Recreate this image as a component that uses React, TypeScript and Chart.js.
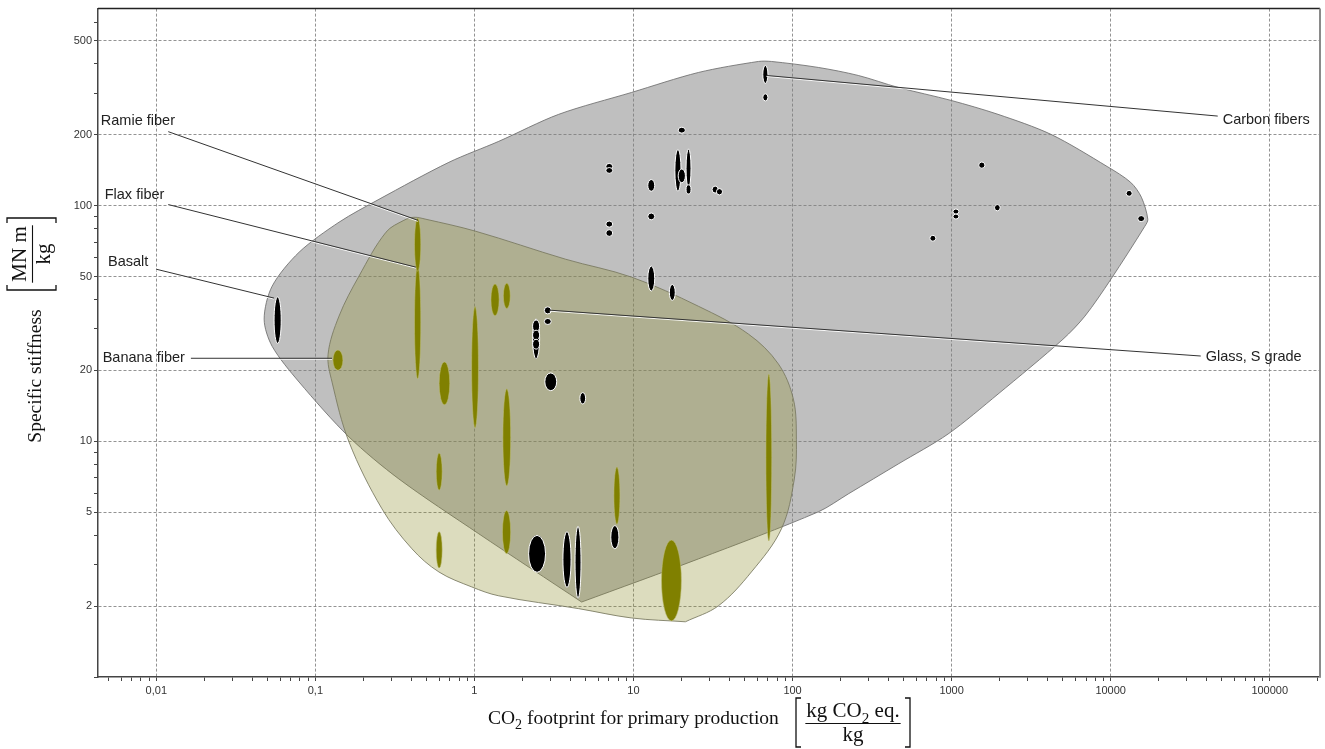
import React, { useEffect, useRef } from 'react';
import { Chart, registerables } from 'chart.js';

Chart.register(...registerables);

// ---- Axis ranges and labelled ticks ----
const xRange: [number, number] = [0.0043, 207000];
const yRange: [number, number] = [1, 685];
const xTickValues = [0.01, 0.1, 1, 10, 100, 1000, 10000, 100000];
const xTickLabels = ['0,01', '0,1', '1', '10', '100', '1000', '10000', '100000'];
const yTickValues = [2, 5, 10, 20, 50, 100, 200, 500];
const yTickLabels = ['2', '5', '10', '20', '50', '100', '200', '500'];

// ---- Synthetic fibres: CO2 footprint range [kg CO2 eq./kg] and specific stiffness range [MN m/kg] ----
const syntheticCO2: [number, number][] = [
  [0.055, 0.061], // basalt
  [65, 70], [65, 70],
  [19.1, 21.2],
  [6.7, 7.4], [6.7, 7.4],
  [12.3, 13.6],
  [18.2, 19.9], [21.4, 23.0], [19.1, 21.2], [21.4, 23.0],
  [31.2, 34.1], [33.2, 36.3],
  [6.7, 7.4], [6.7, 7.4],
  [12.3, 13.6], [12.3, 13.6],
  [16.8, 18.3],
  [1480, 1620], [12500, 13650], [1860, 2020], [1020, 1110], [1020, 1110], [730, 796], [14800, 16350],
  [2.75, 3.04], // glass, S grade
  [2.75, 3.04],
  [2.32, 2.57], [2.32, 2.57], [2.32, 2.57], [2.32, 2.57],
  [2.77, 3.29],
  [4.6, 5.0],
  [2.19, 2.8], [3.6, 4.05], [4.29, 4.68], [7.2, 8.1],
];
const syntheticStiffness: [number, number][] = [
  [26, 41],
  [330, 393], [278, 298],
  [203, 215],
  [142, 151], [137, 145],
  [115, 129],
  [115, 173], [119, 174], [125, 143], [112, 122.5],
  [113, 121], [111, 118],
  [81, 86], [74, 79],
  [87, 93], [43.4, 55.4],
  [39.6, 46.3],
  [144, 153], [109.5, 116], [95, 101], [92, 96.7], [87.7, 92], [70.6, 74.8], [85.5, 90.7],
  [34.7, 37.2],
  [31.3, 33.2],
  [22.4, 33.1], [29, 32.7], [26.9, 29.6], [24.6, 27.1],
  [16.4, 19.5],
  [14.4, 16.1],
  [2.78, 3.99], [2.4, 4.14], [2.16, 4.36], [3.5, 4.39],
];

// ---- Natural fibres ----
const naturalCO2: [number, number][] = [
  [0.129, 0.149], // banana
  [0.42, 0.46], // flax
  [0.42, 0.46], // ramie
  [0.6, 0.7], [0.96, 1.06], [1.27, 1.43], [1.52, 1.68], [1.51, 1.69],
  [0.575, 0.627], [0.575, 0.627], [1.5, 1.69], [7.53, 8.22], [15, 20], [68, 74],
];
const naturalStiffness: [number, number][] = [
  [20, 24.4],
  [18.4, 55.8],
  [52.7, 88.4],
  [14.3, 21.7], [11.4, 37.3], [34.1, 46.5], [36.6, 46.8], [6.46, 16.7],
  [6.2, 8.9], [2.9, 4.13], [3.34, 5.08], [4.45, 7.77], [1.73, 3.81], [3.78, 19.3],
];

// ---- Property envelopes (closed outlines) ----
const syntheticEnvelopeCO2 = [
  4.72, 1.066, 0.3352, 0.1628, 0.079, 0.0535, 0.04764, 0.05348, 0.079, 0.1408, 0.2511, 0.691, 1.423,
  3.386, 9.73, 25.6, 61.0, 73.6, 145.2, 258.9, 461.5, 993, 1958, 4213, 9500, 13350, 15600, 17120,
  16395, 10030, 6887, 5012, 1958, 950.6, 461.5, 224, 145.2, 25.6, 4.72,
];
const syntheticEnvelopeStiffness = [
  2.08, 4.05, 6.92, 10.43, 17.84, 25.3, 32.98, 45.5, 63.4, 85.0, 106.3, 152.6, 187.3,
  243.8, 302, 367, 408.7, 408.7, 385.5, 356.5, 317.1, 279.3, 243.8, 200.5, 146.5, 125.5, 108.5, 87.5,
  81.7, 48.7, 33.96, 27.1, 15.86, 10.74, 8.01, 5.98, 5.02, 3.17, 2.08,
];
const naturalEnvelopeCO2 = [
  21.2, 9.73, 4.52, 1.423, 0.963, 0.598, 0.4046, 0.2623, 0.1628, 0.1273, 0.1202, 0.1408, 0.188,
  0.278, 0.3603, 0.4165, 0.4953, 1.02, 3.748, 9.73, 25.6, 52.8, 81.4, 101.2, 105.7, 102.6, 85.1,
  55.1, 34.2, 21.2,
];
const naturalEnvelopeStiffness = [
  1.715, 1.78, 1.95, 2.21, 2.41, 2.79, 3.5, 5.17, 9.93, 17.84, 23.4, 33.96, 50.2,
  77.1, 86.6, 89.2, 87.5, 77.8, 59.2, 49.7, 37.4, 28.5, 21.3, 15.1, 10.2, 6.92, 4.25,
  2.79, 2.005, 1.715,
];

// ---- Callout labels ----
const calloutTexts = ['Ramie fiber', 'Flax fiber', 'Basalt', 'Banana fiber', 'Carbon fibers', 'Glass, S grade'];

// Where each callout's text sits and where its leader runs (axis units)
const CALLOUTS = [
  { at: [0.00448, 228.3], from: [0.01189, 205.9], to: [0.4413, 86.6] },
  { at: [0.00474, 110.6], from: [0.01189, 101], to: [0.4286, 54.8] },
  { at: [0.00497, 57.4], from: [0.01, 53.7], to: [0.055, 40.5] },
  { at: [0.0046, 22.5], from: [0.0165, 22.5], to: [0.1273, 22.5] },
  { at: [50610, 229.8], from: [47100, 239.7], to: [68.5, 356.5] },
  { at: [39600, 22.8], from: [36830, 23.0], to: [2.974, 36.0] },
];

const SANS = '"Liberation Sans", Arial, Helvetica, sans-serif';
const SERIF = '"Liberation Serif", "Times New Roman", Times, serif';

function logTicks(min: number, max: number): number[] {
  const out: number[] = [];
  for (let e = Math.floor(Math.log10(min)); e <= Math.ceil(Math.log10(max)); e++) {
    for (let m = 1; m <= 9; m++) {
      const v = parseFloat((m * Math.pow(10, e)).toPrecision(6));
      if (v >= min * 0.9999 && v <= max * 1.0001) out.push(v);
    }
  }
  return out;
}

function labelIndex(values: number[], v: number): number {
  return values.findIndex((t) => Math.abs(t - v) / t < 1e-6);
}

const ellipsePlugin = {
  id: 'materialEllipses',
  afterDatasetsDraw(chart: any) {
    const { ctx, chartArea } = chart;
    const xs = chart.scales.x;
    const ys = chart.scales.y;
    ctx.save();
    ctx.beginPath();
    ctx.rect(chartArea.left, chartArea.top, chartArea.right - chartArea.left, chartArea.bottom - chartArea.top);
    ctx.clip();
    const draw = (xr: [number, number], yr: [number, number], fill: string, stroke: string) => {
      const x0 = xs.getPixelForValue(xr[0]);
      const x1 = xs.getPixelForValue(xr[1]);
      const y0 = ys.getPixelForValue(yr[0]);
      const y1 = ys.getPixelForValue(yr[1]);
      ctx.beginPath();
      ctx.ellipse((x0 + x1) / 2, (y0 + y1) / 2, Math.abs(x1 - x0) / 2, Math.abs(y1 - y0) / 2, 0, 0, Math.PI * 2);
      ctx.fillStyle = fill;
      ctx.fill();
      ctx.lineWidth = 1;
      ctx.strokeStyle = stroke;
      ctx.stroke();
    };
    naturalCO2.forEach((xr, i) => draw(xr, naturalStiffness[i], '#808000', 'rgba(190,190,120,0.55)'));
    syntheticCO2.forEach((xr, i) => draw(xr, syntheticStiffness[i], '#000000', '#ffffff'));
    ctx.restore();
  },
};

function drawParts(ctx: CanvasRenderingContext2D, parts: [string, boolean][], x: number, y: number, size: number, measureOnly = false): number {
  let cx = x;
  for (const [txt, sub] of parts) {
    const s = sub ? size * 0.72 : size;
    ctx.font = `${s}px ${SERIF}`;
    if (!measureOnly) ctx.fillText(txt, cx, sub ? y + size * 0.28 : y);
    cx += ctx.measureText(txt).width;
  }
  return cx - x;
}

function drawBrackets(ctx: CanvasRenderingContext2D, left: number, right: number, top: number, bottom: number) {
  const serif = 5;
  ctx.lineWidth = 1.3;
  ctx.strokeStyle = '#111';
  ctx.beginPath();
  ctx.moveTo(left + serif, top);
  ctx.lineTo(left, top);
  ctx.lineTo(left, bottom);
  ctx.lineTo(left + serif, bottom);
  ctx.moveTo(right - serif, top);
  ctx.lineTo(right, top);
  ctx.lineTo(right, bottom);
  ctx.lineTo(right - serif, bottom);
  ctx.stroke();
}

// Fraction centred on (0,0): numerator above the bar, denominator below, in brackets
function drawFraction(ctx: CanvasRenderingContext2D, num: [string, boolean][], den: string, halfWidth: number, size: number) {
  ctx.fillStyle = '#111';
  ctx.textBaseline = 'alphabetic';
  ctx.textAlign = 'left';
  const nw = drawParts(ctx, num, 0, 0, size, true);
  drawParts(ctx, num, -nw / 2, -6, size);
  ctx.font = `${size}px ${SERIF}`;
  const dw = ctx.measureText(den).width;
  ctx.fillText(den, -dw / 2, 18);
  ctx.lineWidth = 1.1;
  ctx.strokeStyle = '#111';
  ctx.beginPath();
  ctx.moveTo(-nw / 2 - 1, 0.5);
  ctx.lineTo(nw / 2 + 1, 0.5);
  ctx.stroke();
  drawBrackets(ctx, -halfWidth, halfWidth, -25, 24);
}

const annotationPlugin = {
  id: 'annotationsAndTitles',
  afterDraw(chart: any) {
    const { ctx, chartArea } = chart;
    const xs = chart.scales.x;
    const ys = chart.scales.y;
    ctx.save();

    // frame: top and right edges of the plot box
    ctx.lineWidth = 1.5;
    ctx.strokeStyle = '#222';
    ctx.beginPath();
    ctx.moveTo(chartArea.left, chartArea.top);
    ctx.lineTo(chartArea.right, chartArea.top);
    ctx.stroke();
    ctx.lineWidth = 2;
    ctx.strokeStyle = '#8a8a8a';
    ctx.beginPath();
    ctx.moveTo(chartArea.right, chartArea.top);
    ctx.lineTo(chartArea.right, chartArea.bottom);
    ctx.stroke();

    // callouts
    CALLOUTS.forEach((c, i) => {
      const fx = xs.getPixelForValue(c.from[0]);
      const fy = ys.getPixelForValue(c.from[1]);
      const tx = xs.getPixelForValue(c.to[0]);
      const ty = ys.getPixelForValue(c.to[1]);
      ctx.lineWidth = 1;
      ctx.strokeStyle = 'rgba(255,255,255,0.9)';
      ctx.beginPath();
      ctx.moveTo(fx, fy + 1);
      ctx.lineTo(tx, ty + 1);
      ctx.stroke();
      ctx.strokeStyle = '#333';
      ctx.beginPath();
      ctx.moveTo(fx, fy);
      ctx.lineTo(tx, ty);
      ctx.stroke();
      ctx.fillStyle = '#222';
      ctx.font = `14.5px ${SANS}`;
      ctx.textAlign = 'left';
      ctx.textBaseline = 'middle';
      ctx.fillText(calloutTexts[i], xs.getPixelForValue(c.at[0]), ys.getPixelForValue(c.at[1]));
    });

    // x-axis title
    ctx.fillStyle = '#111';
    ctx.textAlign = 'left';
    ctx.textBaseline = 'alphabetic';
    drawParts(ctx, [['CO', false], ['2', true], [' footprint for primary production', false]], 488, 724, 19.5);
    ctx.save();
    ctx.translate(853, 723);
    drawFraction(ctx, [['kg CO', false], ['2', true], [' eq.', false]], 'kg', 57, 21);
    ctx.restore();

    // y-axis title
    ctx.save();
    ctx.translate(35, 376);
    ctx.rotate(-Math.PI / 2);
    ctx.fillStyle = '#111';
    ctx.font = `19.5px ${SERIF}`;
    ctx.textAlign = 'center';
    ctx.textBaseline = 'alphabetic';
    ctx.fillText('Specific stiffness', 0, 6);
    ctx.restore();
    ctx.save();
    ctx.translate(32, 254);
    ctx.rotate(-Math.PI / 2);
    drawFraction(ctx, [['MN m', false]], 'kg', 36, 21);
    ctx.restore();

    ctx.restore();
  },
};

function makeScale(range: [number, number], values: number[], labels: string[], isX: boolean) {
  const isLabelled = (v: number | undefined) => v !== undefined && labelIndex(values, v) >= 0;
  return {
    type: 'logarithmic' as const,
    min: range[0],
    max: range[1],
    afterBuildTicks: (scale: any) => {
      scale.ticks = logTicks(range[0], range[1]).map((v) => ({ value: v }));
    },
    afterFit: (scale: any) => {
      if (isX) scale.height = 72;
      else scale.width = 98;
    },
    ticks: {
      autoSkip: false,
      maxRotation: 0,
      minRotation: 0,
      padding: isX ? 3 : 2,
      color: '#333',
      font: { family: SANS, size: 11 },
      callback: (value: any) => {
        const i = labelIndex(values, Number(value));
        return i >= 0 ? labels[i] : '';
      },
    },
    grid: {
      color: (ctx: any) => (ctx.tick && isLabelled(ctx.tick.value) ? 'rgba(120,120,120,0.8)' : 'rgba(0,0,0,0)'),
      lineWidth: 1,
      drawTicks: true,
      tickLength: 4,
      tickColor: '#444',
      tickWidth: 1,
    },
    border: {
      display: true,
      color: '#444',
      width: 1.5,
      dash: [3, 2],
    },
  };
}

export default function App() {
  const canvasRef = useRef<HTMLCanvasElement | null>(null);

  useEffect(() => {
    document.body.style.margin = '0';
    const canvas = canvasRef.current;
    if (!canvas) return;

    const syntheticEnvelope = syntheticEnvelopeCO2.map((x, i) => ({ x, y: syntheticEnvelopeStiffness[i] }));
    const naturalEnvelope = naturalEnvelopeCO2.map((x, i) => ({ x, y: naturalEnvelopeStiffness[i] }));

    const chart = new Chart(canvas, {
      type: 'line',
      data: {
        datasets: [
          {
            label: 'Natural fibres',
            data: naturalEnvelope,
            fill: 'shape',
            backgroundColor: 'rgba(140,140,40,0.3)',
            borderColor: 'rgba(120,120,95,0.85)',
            borderWidth: 1,
            pointRadius: 0,
            tension: 0.35,
          },
          {
            label: 'Synthetic fibres',
            data: syntheticEnvelope,
            fill: 'shape',
            backgroundColor: 'rgba(128,128,128,0.5)',
            borderColor: 'rgba(110,110,110,0.85)',
            borderWidth: 1,
            pointRadius: 0,
            tension: 0.3,
          },
        ],
      },
      options: {
        responsive: false,
        animation: false,
        events: [],
        layout: { padding: { top: 8, right: 5, left: 0, bottom: 0 } },
        plugins: {
          legend: { display: false },
          tooltip: { enabled: false },
        },
        scales: {
          x: makeScale(xRange, xTickValues, xTickLabels, true) as any,
          y: makeScale(yRange, yTickValues, yTickLabels, false) as any,
        },
      },
      plugins: [ellipsePlugin, annotationPlugin],
    });

    return () => chart.destroy();
  }, []);

  return (
    <div style={{ width: 1325, height: 749, background: '#fff' }}>
      <canvas ref={canvasRef} width={1325} height={749} style={{ display: 'block' }} />
    </div>
  );
}
